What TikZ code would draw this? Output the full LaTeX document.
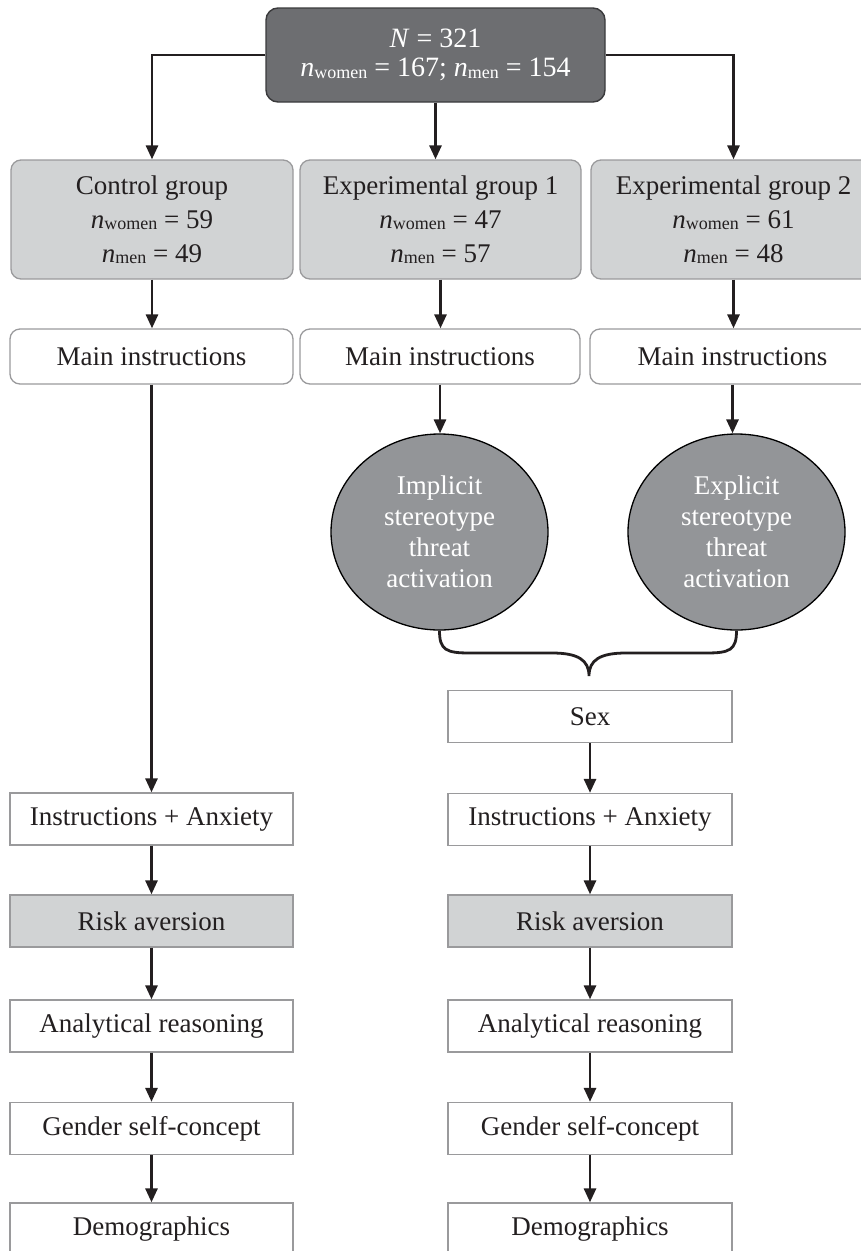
\documentclass[tikz,border=0pt]{standalone}
\usepackage{fontspec}
\setmainfont{Liberation Serif}
\usetikzlibrary{arrows.meta,shapes.geometric}
\definecolor{topfill}{HTML}{6D6E71}
\definecolor{topline}{HTML}{3A3A3C}
\definecolor{lgray}{HTML}{D1D3D4}
\definecolor{mgray}{HTML}{939598}
\definecolor{bline}{HTML}{9A9A9C}
\definecolor{ink}{HTML}{231F20}
\newcommand\nsub[1]{\textit{n}{\fontsize{18}{18}\selectfont\raisebox{-1.5pt}{#1}}}
\tikzset{
  base/.style={inner sep=0pt, align=center, font=\fontsize{27}{33}\selectfont, text=ink},
  topbox/.style={base, draw=topline, line width=1.4pt, fill=topfill, text=white, rounded corners=12pt, font=\fontsize{28}{29}\selectfont},
  grp/.style={base, draw=bline, line width=1.3pt, fill=lgray, rounded corners=10pt, minimum height=119pt, font=\fontsize{27}{34}\selectfont},
  mainbox/.style={base, draw=bline, line width=1.3pt, fill=white, rounded corners=10pt, minimum height=55pt},
  oval/.style={base, ellipse, draw=black, line width=1.3pt, fill=mgray, text=white, minimum width=217pt, minimum height=196pt, font=\fontsize{27}{31}\selectfont},
  stepbox/.style={base, draw=bline, line width=1.3pt, fill=white, minimum height=52pt},
  riskbox/.style={stepbox, fill=lgray},
  arr/.style={draw=ink, line width=2.8pt, -{Triangle[width=12pt,length=14pt]}},
  brace/.style={draw=ink, line width=2.8pt}
}
\begin{document}
\begin{tikzpicture}[x=1pt,y=-1pt]
\useasboundingbox (0,0) rectangle (861,1251);
\clip (0,0) rectangle (861,1251);

\node[topbox, minimum width=339pt, minimum height=94pt] (top) at (435.5,55) {\textit{N} = 321\\ \nsub{women} = 167; \nsub{men} = 154};

\node[grp, minimum width=282pt] (ctrl) at (152,219.5) {Control group\\ \nsub{women} = 59\\ \nsub{men} = 49};
\node[grp, minimum width=281pt] (e1) at (440.5,219.5) {Experimental group 1\\ \nsub{women} = 47\\ \nsub{men} = 57};
\node[grp, minimum width=285pt] (e2) at (733.5,219.5) {Experimental group 2\\ \nsub{women} = 61\\ \nsub{men} = 48};

\node[mainbox, minimum width=283pt] (m0) at (151.5,356.5) {Main instructions};
\node[mainbox, minimum width=280pt] (m1) at (440,356.5) {Main instructions};
\node[mainbox, minimum width=285pt] (m2) at (732.5,356.5) {Main instructions};

\node[oval] (imp) at (439.5,532) {Implicit\\stereotype\\threat\\activation};
\node[oval] (exp) at (736.5,532) {Explicit\\stereotype\\threat\\activation};

\node[stepbox, minimum width=284pt] (sex) at (590,716.5) {Sex};

\node[stepbox, minimum width=283pt] (la) at (151.5,819) {Instructions + Anxiety};
\node[riskbox, minimum width=283pt] (lb) at (151.5,921) {Risk aversion};
\node[stepbox, minimum width=283pt] (lc) at (151.5,1026) {Analytical reasoning};
\node[stepbox, minimum width=283pt] (ld) at (151.5,1128.5) {Gender self-concept};
\node[stepbox, minimum width=283pt] (le) at (151.5,1229) {Demographics};

\node[stepbox, minimum width=284pt] (ra) at (590,819.5) {Instructions + Anxiety};
\node[riskbox, minimum width=284pt] (rb) at (590,921) {Risk aversion};
\node[stepbox, minimum width=284pt] (rc) at (590,1026) {Analytical reasoning};
\node[stepbox, minimum width=284pt] (rd) at (590,1128.5) {Gender self-concept};
\node[stepbox, minimum width=284pt] (re) at (590,1229) {Demographics};

\coordinate (tip) at (589,676);

% top connectors
\draw[arr] (top.west) -| (ctrl.north);
\draw[arr] (top.east) -| (e2.north);
\draw[arr] (top.south) -- (top.south |- e1.north);

% groups to main instructions
\draw[arr] (ctrl.south) -- (ctrl.south |- m0.north);
\draw[arr] (e1.south) -- (e1.south |- m1.north);
\draw[arr] (e2.south) -- (e2.south |- m2.north);

% main instructions to ovals / control path
\draw[arr] (m1.south) -- (m1.south |- imp.north);
\draw[arr] (m2.south) -- (m2.south |- exp.north);
\draw[arr] (m0.south) -- (la.north);

% brace
\draw[brace] (imp.south) .. controls (439.5,650) and (446,653) .. (470,653) -- (552,653)
  .. controls (578,653) and (589,660) .. (tip)
  .. controls (589,660) and (600,653) .. (626,653) -- (706,653)
  .. controls (730,653) and (736.5,650) .. (exp.south);

% left column
\draw[arr] (la) -- (lb);
\draw[arr] (lb) -- (lc);
\draw[arr] (lc) -- (ld);
\draw[arr] (ld) -- (le);

% right column
\draw[arr] (sex) -- (ra);
\draw[arr] (ra) -- (rb);
\draw[arr] (rb) -- (rc);
\draw[arr] (rc) -- (rd);
\draw[arr] (rd) -- (re);
\end{tikzpicture}
\end{document}
